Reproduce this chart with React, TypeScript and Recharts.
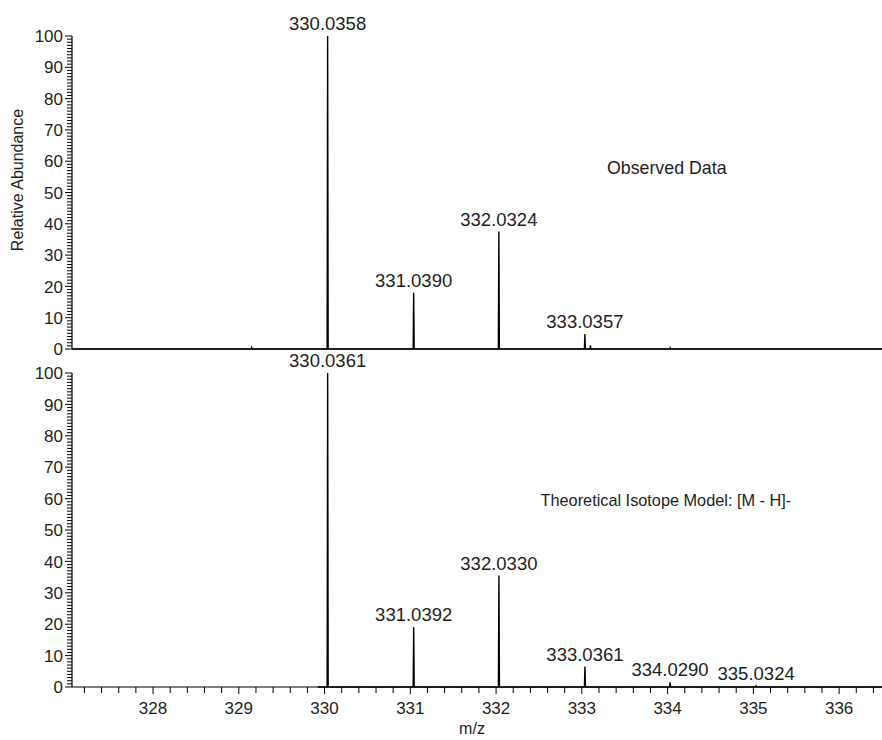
import React from 'react';
import { ComposedChart, Line, XAxis, YAxis, ReferenceDot } from 'recharts';

// Observed spectrum (centroid positions + relative abundance)
const observedMz = [329.15, 330.0358, 331.039, 332.0324, 333.0357, 333.1, 334.03];
const observedAbundance = [0.5, 100, 18, 37.5, 4.8, 1.2, 0.4];
const observedLabels = ['', '330.0358', '331.0390', '332.0324', '333.0357', '', ''];

// Theoretical isotope model
const theoreticalMz = [330.0361, 331.0392, 332.033, 333.0361, 334.029, 335.0324];
const theoreticalAbundance = [100, 19, 35.5, 6.5, 1.5, 0.4];
const theoreticalLabels = ['330.0361', '331.0392', '332.0330', '333.0361', '334.0290', '335.0324'];

const xMajorTickLabels = [328, 329, 330, 331, 332, 333, 334, 335, 336];
const yMajorTickLabels = [0, 10, 20, 30, 40, 50, 60, 70, 80, 90, 100];
const mzDomain: [number, number] = [327.055, 336.5];
const observedStart = 327.055;
const theoreticalStart = 329.92;

const FONT = '"Liberation Sans", Arial, sans-serif';
const TEXT = '#1e1e1e';

type Row = { mz: number; v: number; label?: string };

function buildProfile(mz: number[], ab: number[], labels: string[], start: number, end: number): Row[] {
  const rows: Row[] = [{ mz: start, v: 0 }];
  mz.forEach((m, i) => {
    rows.push({ mz: m - 0.006, v: 0 });
    rows.push({ mz: m, v: ab[i], label: labels[i] });
    rows.push({ mz: m + 0.006, v: 0 });
  });
  rows.push({ mz: end, v: 0 });
  return rows;
}

const observedData = buildProfile(observedMz, observedAbundance, observedLabels, observedStart, mzDomain[1]);
const theoreticalData = buildProfile(theoreticalMz, theoreticalAbundance, theoreticalLabels, theoreticalStart, mzDomain[1]);

// axis tick positions: minor every 1 (y) and every 0.2 (x)
const yTicks: number[] = [];
for (let i = 0; i <= 100; i++) yTicks.push(i);
const xTicks: number[] = [];
for (let k = 0; k <= 46; k++) xTicks.push(Math.round((327.2 + k * 0.2) * 10) / 10);

const YTick = (props: any) => {
  const { x, y, payload } = props;
  const v = payload.value;
  const major = yMajorTickLabels.includes(v);
  return (
    <g>
      <line x1={x - (major ? 7 : 5)} x2={x} y1={y} y2={y} stroke="#000" strokeWidth={1} />
      {major && (
        <text x={x - 9} y={y} dy="0.36em" textAnchor="end" fontSize={17} fill={TEXT} fontFamily={FONT}>
          {v}
        </text>
      )}
    </g>
  );
};

const XTick = (props: any) => {
  const { x, y, payload } = props;
  const v = payload.value;
  const r = Math.round(v);
  const major = Math.abs(v - r) < 1e-6 && xMajorTickLabels.includes(r);
  return (
    <g>
      <line x1={x} x2={x} y1={y} y2={y + (major ? 7 : 6)} stroke="#000" strokeWidth={1} />
      {major && (
        <text x={x} y={y + 21} dy="0.36em" textAnchor="middle" fontSize={17} fill={TEXT} fontFamily={FONT}>
          {r}
        </text>
      )}
    </g>
  );
};

const peakDot = (props: any) => {
  const { cx, cy, payload, index } = props;
  if (!payload || !payload.label) return <g key={`e${index}`} />;
  return (
    <text
      key={`l${index}`}
      x={cx}
      y={cy - 6}
      textAnchor="middle"
      fontSize={18.5}
      fill={TEXT}
      fontFamily={FONT}
    >
      {payload.label}
    </text>
  );
};

const YTitle = () => (
  <text
    x={17}
    y={180}
    transform="rotate(-90, 17, 180)"
    textAnchor="middle"
    dy="0.36em"
    fontSize={16}
    fill={TEXT}
    fontFamily={FONT}
  >
    Relative Abundance
  </text>
);

const XTitle = () => (
  <text x={472} y={378} textAnchor="middle" dy="0.36em" fontSize={16} fill={TEXT} fontFamily={FONT}>
    m/z
  </text>
);

export default function App() {
  return (
    <div
      style={{
        position: 'absolute',
        left: 0,
        top: 0,
        width: 882,
        height: 740,
        background: '#fff',
        fontFamily: FONT,
        overflow: 'hidden',
      }}
    >
      <div style={{ position: 'absolute', left: 0, top: 0 }}>
        <ComposedChart width={882} height={362} data={observedData} margin={{ top: 36, right: 0, bottom: 0, left: 0 }}>
          <XAxis
            type="number"
            dataKey="mz"
            domain={mzDomain}
            height={13}
            tick={false}
            tickLine={false}
            axisLine={{ stroke: '#000', strokeWidth: 1.2 }}
          />
          <YAxis
            type="number"
            domain={[0, 100]}
            ticks={yTicks}
            interval={0}
            width={72}
            tickSize={0}
            tickMargin={0}
            tickLine={false}
            tick={<YTick />}
            axisLine={{ stroke: '#000', strokeWidth: 1.2 }}
            label={{ content: () => <YTitle /> }}
          />
          <Line
            type="linear"
            dataKey="v"
            stroke="#000"
            strokeWidth={1.4}
            dot={peakDot}
            activeDot={false}
            isAnimationActive={false}
          />
          <ReferenceDot
            x={333.99}
            y={58}
            r={0}
            fill="none"
            stroke="none"
            label={{ value: 'Observed Data', position: 'center', fontSize: 17.8, fill: TEXT, fontFamily: FONT }}
          />
        </ComposedChart>
      </div>
      <div style={{ position: 'absolute', left: 0, top: 350 }}>
        <ComposedChart width={882} height={390} data={theoreticalData} margin={{ top: 23, right: 0, bottom: 0, left: 0 }}>
          <XAxis
            type="number"
            dataKey="mz"
            domain={mzDomain}
            ticks={xTicks}
            interval={0}
            height={53}
            tickSize={0}
            tickMargin={0}
            tickLine={false}
            tick={<XTick />}
            axisLine={{ stroke: '#000', strokeWidth: 1.2 }}
            label={{ content: () => <XTitle /> }}
          />
          <YAxis
            type="number"
            domain={[0, 100]}
            ticks={yTicks}
            interval={0}
            width={72}
            tickSize={0}
            tickMargin={0}
            tickLine={false}
            tick={<YTick />}
            axisLine={{ stroke: '#000', strokeWidth: 1.2 }}
          />
          <Line
            type="linear"
            dataKey="v"
            stroke="#000"
            strokeWidth={1.4}
            dot={peakDot}
            activeDot={false}
            isAnimationActive={false}
          />
          <ReferenceDot
            x={333.98}
            y={59.6}
            r={0}
            fill="none"
            stroke="none"
            label={{
              value: 'Theoretical Isotope Model: [M - H]-',
              position: 'center',
              fontSize: 16.3,
              fill: TEXT,
              fontFamily: FONT,
            }}
          />
        </ComposedChart>
      </div>
    </div>
  );
}
